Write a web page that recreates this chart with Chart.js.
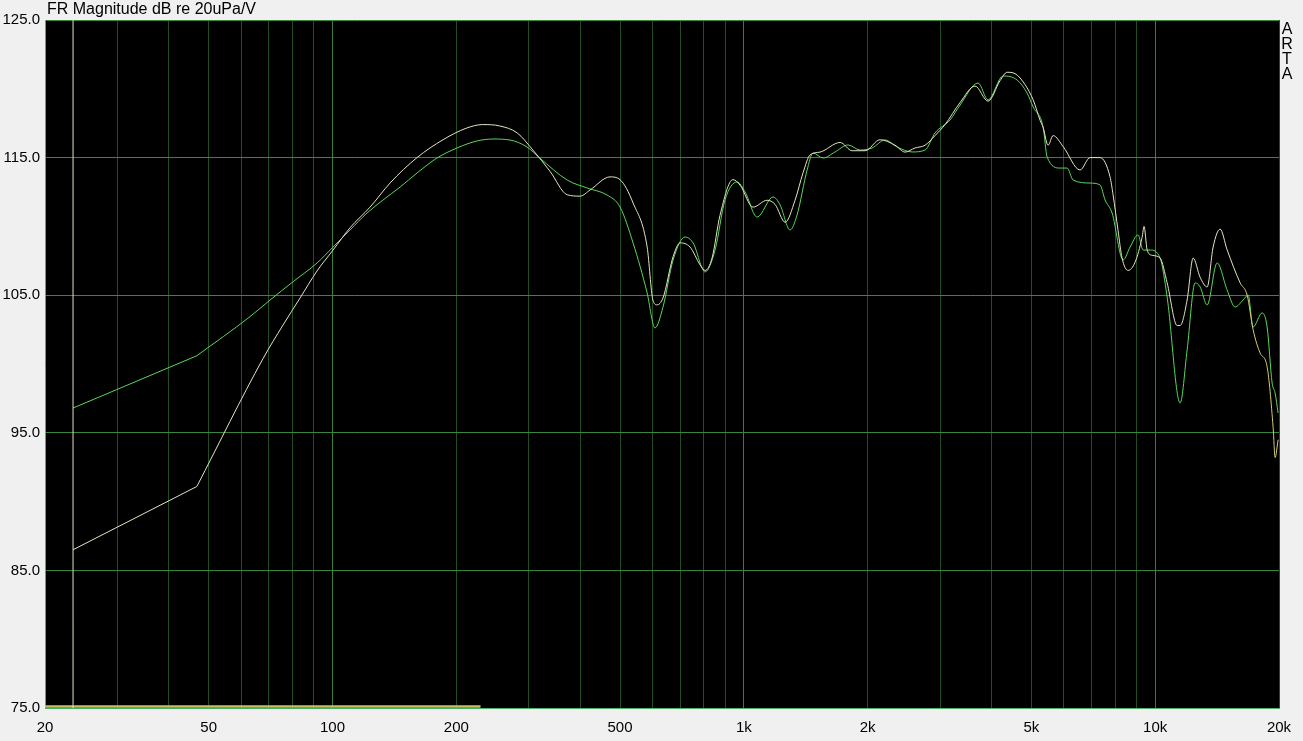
<!DOCTYPE html>
<html>
<head>
<meta charset="utf-8">
<script src="https://cdn.jsdelivr.net/npm/chart.js@4.4.1/dist/chart.umd.min.js"></script>
<style>
  html, body { margin: 0; padding: 0; background: #f0f0f0; }
  #wrap { position: relative; width: 1303px; height: 741px; overflow: hidden; }
  #c { position: absolute; left: 0; top: 0; }
  .txt { position: absolute; font-family: 'Liberation Sans', Arial, sans-serif; font-size: 16px; color: #000; white-space: nowrap; }
  #title { left: 47px; top: 1px; line-height: 16px; }
  #arta { left: 1281px; top: 21px; width: 12px; line-height: 15px; white-space: normal; word-break: break-all; text-align: center; }
</style>
</head>
<body>
<div id="wrap">
  <canvas id="c" width="1303" height="741"></canvas>
  <div id="title" class="txt">FR Magnitude dB re 20uPa/V</div>
  <div id="arta" class="txt">ARTA</div>
</div>
<script>
// ---- data (frequency in Hz, level in dB) ----
const FREQ_A = [23.4, 46.8, 67.8, 75.8, 83.4, 91.7, 100.3, 110.3, 123.4, 138, 160.5, 185.7, 212, 232, 255, 281, 307, 338, 372, 400, 423, 473, 500, 538, 582, 601, 615, 636, 673, 700, 740, 783, 805, 837, 875, 941, 979, 1053, 1139, 1191, 1260, 1332, 1393, 1449, 1532, 1714, 1833, 1971, 2144, 2331, 2466, 2608, 2758, 2916, 3084, 3355, 3648, 3924, 4198, 4366, 4564, 4828, 5050, 5252, 5340, 5490, 5648, 5974, 6568, 6946, 7346, 7768, 7900, 8124, 8308, 8592, 8936, 9294, 9398, 9558, 9830, 10280, 10692, 11308, 11500, 11958, 12368, 12862, 13376, 13832, 14384, 14958, 16090, 16734, 17300, 17994, 18712, 19352, 19568, 19900];
const DB_A = [86.5, 91.1, 100.4, 102.83, 104.8, 106.76, 108.28, 109.9, 111.4, 113.15, 115.0, 116.3, 117.15, 117.4, 117.3, 116.8, 115.55, 114.0, 112.3, 112.2, 112.65, 113.6, 113.4, 111.7, 108.5, 104.65, 104.3, 104.8, 107.8, 108.8, 108.5, 107.2, 106.8, 107.7, 110.8, 113.4, 113.0, 111.4, 111.9, 111.6, 110.3, 111.9, 113.9, 115.2, 115.4, 116.1, 115.5, 115.5, 116.3, 115.9, 115.4, 115.7, 115.9, 116.6, 117.4, 119.0, 120.2, 119.1, 120.6, 121.2, 121.1, 120.3, 119.2, 117.7, 117.2, 115.9, 116.6, 115.8, 114.1, 115.0, 115.0, 113.6, 112.3, 109.7, 107.7, 106.8, 107.4, 109.2, 110.0, 108.3, 107.9, 107.7, 105.9, 102.8, 102.8, 104.65, 107.7, 106.3, 105.6, 108.5, 109.8, 108.3, 105.9, 105.0, 102.5, 100.8, 99.8, 95.4, 93.2, 94.5];

const FREQ_B = [23.4, 46.8, 63.0, 70.5, 80.2, 91.7, 100.3, 110.3, 121.3, 132.7, 146, 160.5, 179.5, 200.8, 224.6, 246, 270, 297, 319, 372, 416, 465, 500, 538, 582, 608, 636, 673, 720, 753, 805, 851, 900, 963, 1007, 1077, 1178, 1225, 1295, 1347, 1425, 1473, 1558, 1666, 1792, 1917, 2050, 2204, 2358, 2565, 2758, 2916, 3171, 3355, 3710, 3924, 4268, 4616, 4882, 5050, 5340, 5462, 5874, 6108, 6316, 6946, 7346, 7554, 7858, 8356, 8690, 9086, 9348, 9720, 10280, 10692, 11500, 11958, 12506, 12862, 13376, 14144, 14958, 15646, 16362, 16828, 17300, 18194, 18712, 19244, 19568, 19900];
const DB_B = [96.8, 100.6, 103.44, 104.65, 105.98, 107.34, 108.5, 109.74, 110.97, 111.92, 112.86, 113.88, 114.97, 115.7, 116.21, 116.35, 116.28, 115.77, 114.97, 113.37, 112.79, 112.28, 111.41, 108.79, 105.16, 102.62, 104.14, 107.56, 109.23, 108.79, 106.69, 108.28, 111.92, 113.23, 112.5, 110.68, 112.14, 111.56, 109.74, 110.83, 114.1, 115.33, 114.97, 115.41, 115.92, 115.55, 115.7, 116.28, 115.77, 115.41, 115.55, 116.79, 117.73, 118.82, 120.42, 119.19, 120.93, 120.64, 119.69, 118.68, 117.22, 115.04, 114.24, 114.24, 113.37, 113.15, 113.01, 111.92, 110.97, 107.56, 108.5, 109.38, 108.28, 108.28, 107.7, 104.87, 97.17, 101.02, 105.89, 105.6, 104.29, 107.34, 105.38, 104.14, 104.65, 105.01, 102.69, 103.71, 102.69, 98.62, 97.89, 96.44];

// marker line (start of data) and bottom bar
const MARKER_FREQ = [23.4, 23.4];
const MARKER_DB = [75, 125];
const BAR_FREQ = [20, 229];
const BAR_DB = [75.1, 75.1];

// axes
const X_GRID = [20,30,40,50,60,70,80,90,100,200,300,400,500,600,700,800,900,1000,2000,3000,4000,5000,6000,7000,8000,9000,10000,20000];
const X_LABELS = {20:'20',50:'50',100:'100',200:'200',500:'500',1000:'1k',2000:'2k',5000:'5k',10000:'10k',20000:'20k'};
const Y_TICKS = [75, 85, 95, 105, 115, 125];

function pts(xs, ys, from, to) {
  const out = [];
  for (let i = from; i < to; i++) out.push({x: xs[i], y: ys[i]});
  return out;
}

const bgPlugin = {
  id: 'bg',
  beforeDraw(chart) {
    const {ctx, chartArea: a} = chart;
    ctx.save();
    ctx.fillStyle = '#f0f0f0';
    ctx.fillRect(0, 0, chart.width, chart.height);
    ctx.fillStyle = '#000000';
    ctx.fillRect(a.left, a.top, a.right - a.left, a.bottom - a.top);
    ctx.restore();
  }
};

const FONT = {family: "'Liberation Sans', Arial, sans-serif", size: 15};
const PALE = '#e4e4c0';
const GREEN = '#58d858';
const paleSeg = {borderColor: c => (c.p0.parsed.x > 15500 ? '#d6ce70' : PALE)};

new Chart(document.getElementById('c'), {
  type: 'line',
  data: {
    datasets: [
      {data: pts(MARKER_FREQ, MARKER_DB, 0, 2), borderColor: '#e6e2b4', borderWidth: 1, pointRadius: 0, tension: 0},
      {data: pts(BAR_FREQ, BAR_DB, 0, 2), borderColor: '#c8c05c', borderWidth: 2.5, pointRadius: 0, tension: 0},
      {data: pts(FREQ_A, DB_A, 0, 2), borderColor: PALE, borderWidth: 1, pointRadius: 0, tension: 0},
      {data: pts(FREQ_A, DB_A, 1, FREQ_A.length), borderColor: PALE, segment: paleSeg, borderWidth: 1, pointRadius: 0, cubicInterpolationMode: 'monotone'},
      {data: pts(FREQ_B, DB_B, 0, 2), borderColor: GREEN, borderWidth: 1, pointRadius: 0, tension: 0},
      {data: pts(FREQ_B, DB_B, 1, FREQ_B.length), borderColor: GREEN, borderWidth: 1, pointRadius: 0, cubicInterpolationMode: 'monotone'}
    ]
  },
  options: {
    responsive: false,
    animation: false,
    devicePixelRatio: 1,
    layout: {padding: {left: 0, top: 20, right: 24, bottom: 0}},
    plugins: {legend: {display: false}, tooltip: {enabled: false}, title: {display: false}},
    scales: {
      x: {
        type: 'logarithmic', min: 20, max: 20000,
        afterBuildTicks: s => { s.ticks = X_GRID.map(v => ({value: v})); },
        afterFit: s => { s.height = 33; },
        ticks: {autoSkip: false, maxRotation: 0, minRotation: 0, padding: 11, color: '#000', font: FONT,
                callback: v => (X_LABELS[v] !== undefined ? X_LABELS[v] : '')},
        grid: {drawTicks: false, lineWidth: 1,
               color: c => { const v = c.tick ? c.tick.value : 0; return (v === 100 || v === 1000 || v === 10000) ? '#3a7c3a' : '#214f21'; }},
        border: {display: true, color: '#4caf6a', width: 1}
      },
      y: {
        type: 'linear', min: 75, max: 125,
        afterBuildTicks: s => { s.ticks = Y_TICKS.map(v => ({value: v})); },
        afterFit: s => { s.width = 45; },
        ticks: {padding: 5, color: '#000', font: FONT, callback: v => Number(v).toFixed(1)},
        grid: {drawTicks: false, lineWidth: 1, color: '#3a863a'},
        border: {display: true, color: '#4caf6a', width: 1}
      }
    }
  },
  plugins: [bgPlugin]
});
</script>
</body>
</html>
